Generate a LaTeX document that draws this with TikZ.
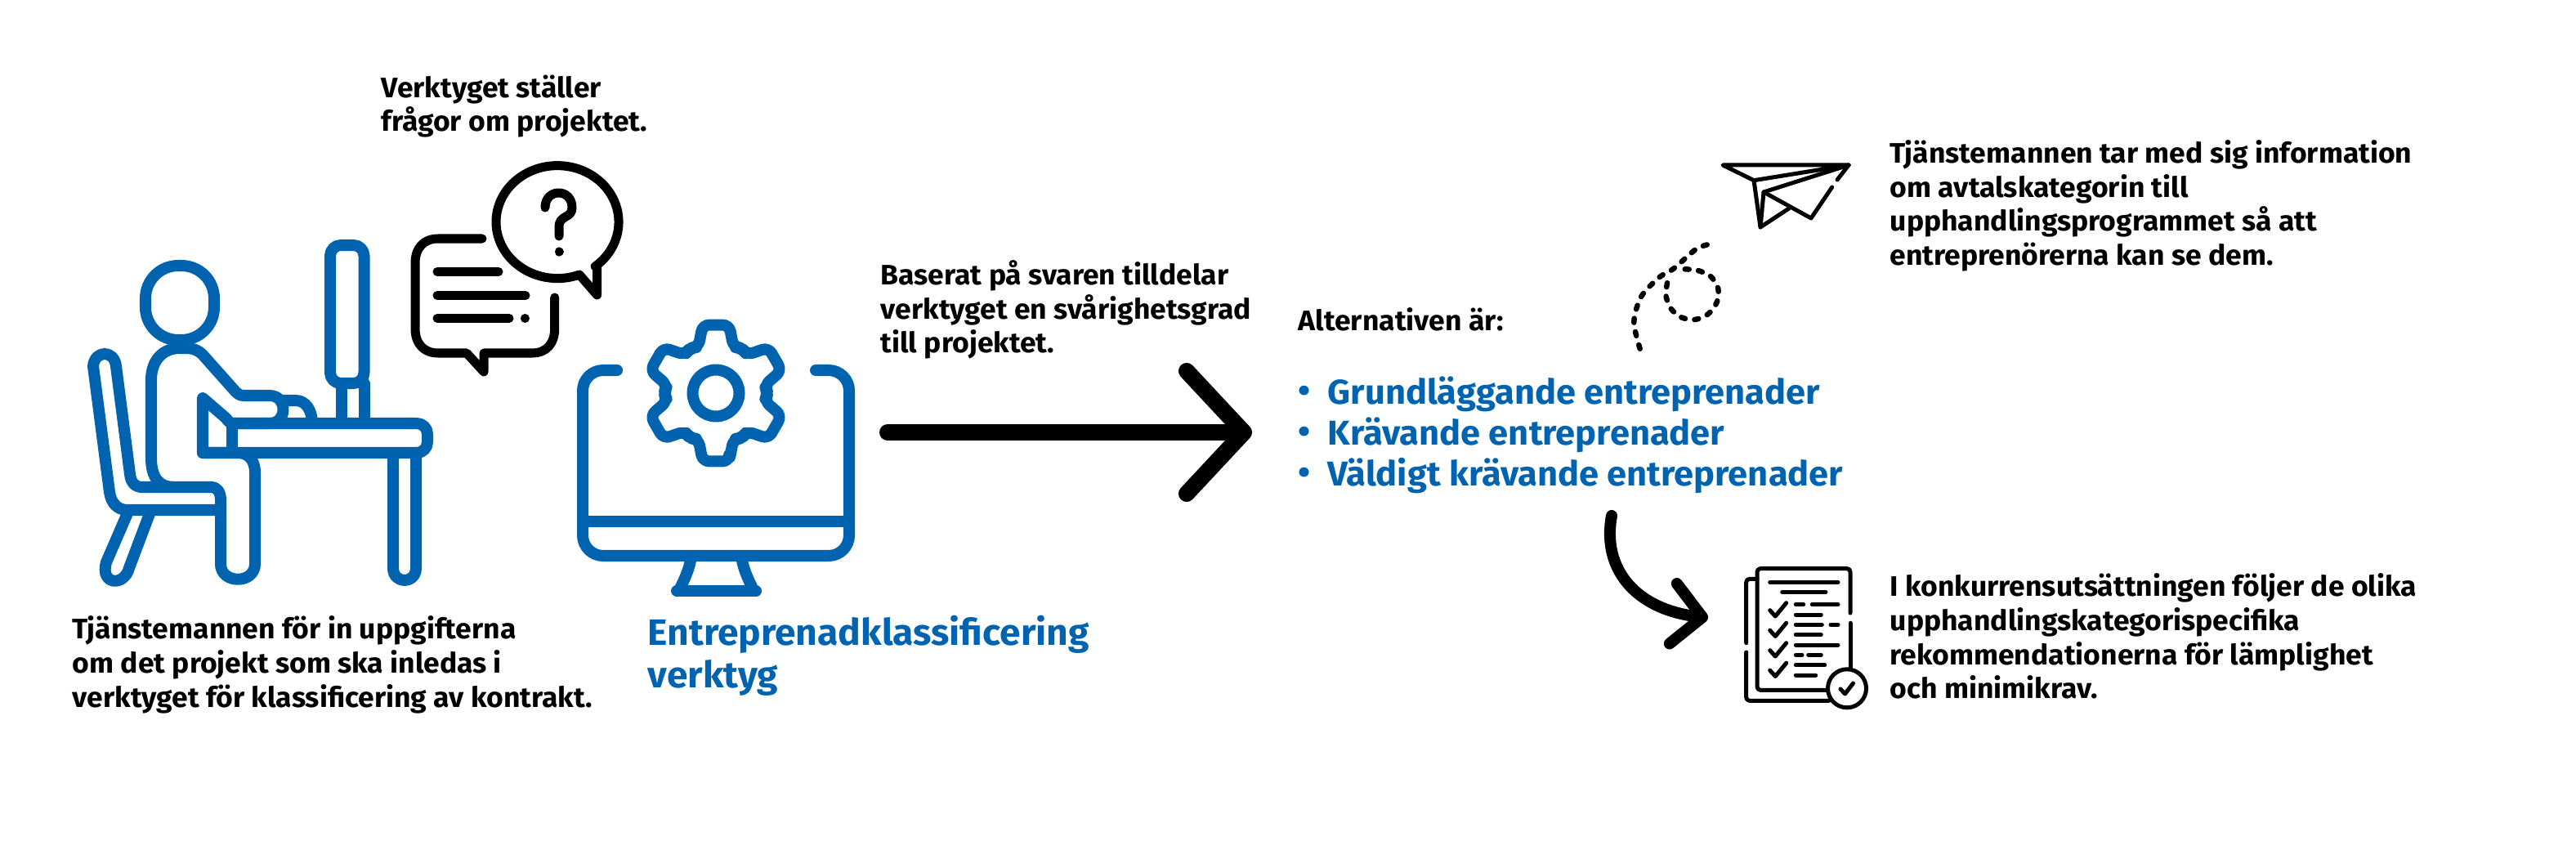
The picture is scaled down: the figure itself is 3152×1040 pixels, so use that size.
\documentclass[tikz,border=0pt]{standalone}
\usepackage{fontspec}
\setmainfont{Fira Sans}[FakeStretch=1.03]
\usetikzlibrary{arrows.meta}
\definecolor{toolblue}{HTML}{0063AF}
\tikzstyle{bodytext}=[anchor=north west,align=left,inner sep=0pt,font=\fontsize{9.8}{11.85}\selectfont\bfseries]
\tikzstyle{bluetext}=[anchor=north west,align=left,inner sep=0pt,text=toolblue,font=\fontsize{12}{15}\selectfont\bfseries]
\tikzstyle{bluehead}=[anchor=north west,align=left,inner sep=0pt,text=toolblue,font=\fontsize{12.75}{15}\selectfont\bfseries]
\tikzstyle{bluestroke}=[draw=toolblue,line width=0.14cm,line join=round,line cap=round]
\tikzstyle{blackstroke}=[draw=black,line width=0.11cm,line join=round,line cap=round]
\tikzstyle{thinstroke}=[draw=black,line width=0.05cm,line join=round,line cap=round]
\tikzstyle{trail}=[draw=black,line width=0.065cm,line cap=round,dash pattern=on 0.05cm off 0.115cm]

\begin{document}
\begin{tikzpicture}[x=0.01cm,y=-0.01cm]
\useasboundingbox (0,0) rectangle (3152,1040);

\draw[bluestroke,rounded corners=0.4cm] (178,325) rectangle (262,416);
\draw[bluestroke] (220,426) .. controls (200,426) and (185,440) .. (185,465) -- (185,560) .. controls (185,585) and (195,596) .. (213,596) -- (258,596) .. controls (266,596) and (270,602) .. (270,612) -- (270,690) .. controls (270,715) and (312,715) .. (312,690) -- (312,578) .. controls (312,562) and (303,554) .. (291,554) -- (248,554) -- (248,487) -- (277,512) .. controls (279,516) and (282,518) .. (288,518) -- (330,518) .. controls (352,518) and (352,484) .. (330,484) -- (298,484) .. controls (294,484) and (291,482) .. (288,479) -- (248,434) .. controls (242,428) and (236,426) .. (226,426) -- cycle;
\draw[bluestroke] (213,596) -- (174,596) .. controls (165,596) and (160,590) .. (159,580) -- (142,448) .. controls (140,428) and (116,428) .. (114,448) -- (134,602) .. controls (136,616) and (144,624) .. (156,624) -- (270,624);
\draw[bluestroke] (156,628) -- (130,688) .. controls (122,716) and (152,718) .. (158,695) -- (184,626);
\draw[bluestroke,rounded corners=0.13cm] (284,518) -- (523,518) -- (523,554) -- (248,554);
\draw[bluestroke] (284,518) -- (284,554);
\draw[bluestroke] (481,554) -- (481,695) .. controls (481,715) and (509,715) .. (509,695) -- (509,554);
\draw[bluestroke,rounded corners=0.13cm] (404,300) rectangle (445.5,469);
\draw[bluestroke] (417.5,469) -- (417.5,518);
\draw[bluestroke] (445.5,469) -- (445.5,518);
\draw[bluestroke] (347,490) -- (362,490) .. controls (374,490) and (382,502) .. (382,518);

\draw[blackstroke] (590,292) -- (536,292) .. controls (518,292) and (508,304) .. (508,322) -- (508,402) .. controls (508,420) and (518,432) .. (536,432) -- (571,432) -- (592,455) -- (592,432) -- (651,432) .. controls (669,432) and (678.7,420) .. (678.7,402) -- (678.7,364);
\draw[blackstroke] (535,332.5) -- (610,332.5);
\draw[blackstroke] (535,361.5) -- (643,361.5);
\draw[blackstroke] (535,389.5) -- (623,389.5);
\draw[blackstroke] (642.4,389.5) -- (642.5,389.5);
\draw[blackstroke] (728.2,326) arc[start angle=52,end angle=-291,x radius=75,y radius=69] -- (730.6,361) -- (730.6,328) -- cycle;
\draw[blackstroke] (667,254) .. controls (667,230) and (700,230) .. (700,254) .. controls (700,268) and (684,262) .. (684,278) -- (684,289);
\draw[blackstroke] (684,308) -- (684,308.1);

\draw[bluestroke,rounded corners=0.25cm] (755,453) -- (713,453) -- (713,680) -- (1039,680) -- (1039,453) -- (998,453);
\draw[bluestroke,line cap=butt] (713,638) -- (1039,638);
\draw[bluestroke] (846,680) .. controls (844,695) and (838,708) .. (831,722);
\draw[bluestroke] (907,680) .. controls (909,695) and (915,708) .. (922,722);
\draw[bluestroke] (828,723) -- (925,723);
\draw[bluestroke] (876,481) circle (28.5);
\begin{scope}[shift={(876,481)}]
\draw[bluestroke,rounded corners=0.08cm] (79:85) \foreach \a in {90,150,210,270,330,30} { -- (\a-11:85) -- (\a+11:85) -- (\a+21:60) -- (\a+30:64) -- (\a+39:60)} -- cycle;
\end{scope}

\coordinate (bigstart) at (1086,529);
\coordinate (bigend) at (1532,529);
\draw[draw=black,line width=0.2cm,line cap=round,-{Straight Barb[length=7mm,width=15mm,round]}] (bigstart) -- (bigend);

\coordinate (bendstart) at (1972,631);
\coordinate (bendend) at (2090,756);
\draw[draw=black,line width=0.14cm,line cap=round,-{Straight Barb[length=3.6mm,width=7.4mm,round]}] (bendstart) .. controls (1960,695) and (2000,745) .. (bendend);

\draw[thinstroke] (2108,202) -- (2262,202) -- (2146,220.7) -- cycle;
\draw[thinstroke] (2146,220.7) -- (2154,278) -- (2189,255);
\draw[thinstroke] (2154,278) -- (2158,235) -- (2262,202);
\draw[thinstroke] (2158,235) -- (2216,267) -- (2241.7,229);
\draw[thinstroke] (2248,220) -- (2262,202);
\draw[trail] plot[smooth] coordinates {(2006.7,426.7) (1999.3,394) (2008.3,362.7) (2030.7,339) (2048.3,328.3) (2075,305) (2090.7,299)};
\draw[trail] plot[smooth] coordinates {(2061.7,329.3) (2077.7,331) (2093.3,338.3) (2102.3,353.3) (2100.7,370) (2090,384.3) (2074,391) (2057.3,388.3) (2044.3,377.3) (2038.3,360.7) (2040.7,343.3)};

\draw[thinstroke,rounded corners=0.04cm] (2264,750) -- (2264,695.7) -- (2150,695.7) -- (2150,844.3) -- (2235,844.3);
\draw[thinstroke] (2264,762.3) -- (2264,816.7);
\draw[thinstroke,rounded corners=0.04cm] (2150,708.3) -- (2136.7,708.3) -- (2136.7,786.7);
\draw[thinstroke,rounded corners=0.04cm] (2136.7,798) -- (2136.7,857.3) -- (2238,857.3);
\draw[thinstroke] (2260,842.3) circle (23.5);
\draw[thinstroke] (2252,843) -- (2257.5,849) -- (2267.5,836);
\draw[thinstroke] (2165.7,712.3) -- (2249,712.3);
\draw[thinstroke] (2180.7,724.3) -- (2234,724.3);
\foreach \y in {0,24.5,49,73.5} {
\draw[thinstroke] (2165.7,746.7+\y) -- (2172.3,754+\y) -- (2185.7,737.7+\y);
}
\draw[thinstroke] (2197.3,739.7) -- (2206.7,739.7);
\draw[thinstroke] (2217.3,739.7) -- (2249,739.7);
\draw[thinstroke] (2197.3,752) -- (2228.3,752);
\draw[thinstroke] (2197.3,764.3) -- (2229.3,764.3);
\draw[thinstroke] (2240,764.3) -- (2249,764.3);
\draw[thinstroke] (2197.3,776.7) -- (2228.3,776.7);
\draw[thinstroke] (2197.3,789) -- (2249,789);
\draw[thinstroke] (2197.3,801.3) -- (2205,801.3);
\draw[thinstroke] (2212.7,801.3) -- (2228.3,801.3);
\draw[thinstroke] (2197.3,813.7) -- (2232.7,813.7);
\draw[thinstroke] (2197.3,826) -- (2221.7,826);

\node[bodytext] at (466,91) (questions) {Verktyget ställer\\frågor om projektet.};
\node[bodytext] at (88,753) (officer) {Tjänstemannen för in uppgifterna\\om det projekt som ska inledas i\\verktyget för klassificering av kontrakt.};
\node[bodytext] at (1077,318) (grade) {Baserat på svaren tilldelar\\verktyget en svårighetsgrad\\till projektet.};
\node[bodytext] at (1588,376) (options) {Alternativen är:};
\node[bodytext] at (2312,171) (info) {Tjänstemannen tar med sig information\\om avtalskategorin till\\upphandlingsprogrammet så att\\entreprenörerna kan se dem.};
\node[bodytext] at (2312,701) (rules) {I konkurrensutsättningen följer de olika\\upphandlingskategorispecifika\\rekommendationerna för lämplighet\\och minimikrav.};
\node[bluehead] at (792,752) (toolname) {Entreprenadklassificering\\verktyg};
\node[bluetext] at (1588,472) (dotone) {•};
\node[bluetext] at (1588,522) (dottwo) {•};
\node[bluetext] at (1588,572) (dotthree) {•};
\node[bluetext] at (1624,460) (basic) {Grundläggande entreprenader};
\node[bluetext] at (1624,510) (demanding) {Krävande entreprenader};
\node[bluetext] at (1624,560) (verydemanding) {Väldigt krävande entreprenader};
\end{tikzpicture}
\end{document}
